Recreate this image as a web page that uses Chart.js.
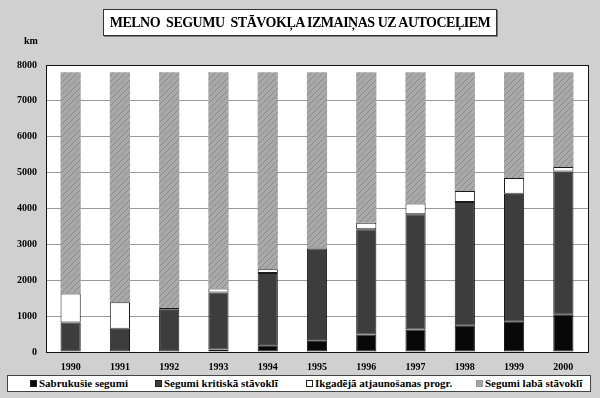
<!DOCTYPE html>
<html>
<head>
<meta charset="utf-8">
<script src="https://cdn.jsdelivr.net/npm/chart.js@4.4.1/dist/chart.umd.min.js"></script>
<style>
  html, body { margin: 0; padding: 0; }
  body { width: 600px; height: 398px; position: relative; overflow: hidden; background: #d0d0d0; font-family: "Liberation Serif", "Times New Roman", serif; }
  #wrap { position: absolute; left: 0; top: 0; width: 600px; height: 398px; }
  .title {
    position: absolute; left: 103px; top: 9px; width: 392px; height: 25px;
    background: #fff; border: 1px solid #333; box-shadow: 1px 1px 0 #777;
    font-weight: bold; font-size: 14px; letter-spacing: -0.5px; line-height: 25px; text-align: center; white-space: pre; color: #000;
  }
  .unit { position: absolute; left: 24px; top: 35px; font-weight: bold; font-size: 10px; }
  .legend {
    position: absolute; left: 7px; top: 375px; width: 582px; height: 15px;
    background: #fff; border: 1px solid #444; font-weight: bold; font-size: 11px; line-height: 15px; color: #000;
  }
  .item { position: absolute; top: 0; white-space: nowrap; }
  .sw { display: inline-block; width: 7px; height: 7px; margin-right: 2px; box-sizing: border-box; }
</style>
</head>
<body>
<div id="wrap"><canvas id="chart" width="600" height="398"></canvas></div>
<div class="title">MELNO  SEGUMU  STĀVOKĻA IZMAIŅAS UZ AUTOCEĻIEM</div>
<div class="unit">km</div>
<div class="legend" id="legend"></div>

<script>
// data (km)
const years = ["1990", "1991", "1992", "1993", "1994", "1995", "1996", "1997", "1998", "1999", "2000"];
const collapsed = [0, 0, 0, 70, 190, 330, 490, 630, 730, 840, 1040];
const critical = [820, 650, 1180, 1590, 2010, 2555, 2935, 3210, 3450, 3570, 3990];
const renewal = [810, 740, 45, 110, 110, 25, 175, 300, 305, 440, 130];
const good = [6170, 6410, 6575, 6030, 5490, 4890, 4200, 3660, 3315, 2950, 2640];
const yTicks = [0, 1000, 2000, 3000, 4000, 5000, 6000, 7000, 8000];

const seriesNames = ["Sabrukušie segumi", "Segumi kritiskā stāvoklī", "Ikgadējā atjaunošanas progr.", "Segumi labā stāvoklī"];
const legendX = [22, 147, 298, 468];

// hatch pattern for the "good" segments
function hatch() {
  const c = document.createElement("canvas");
  c.width = 6; c.height = 6;
  const g = c.getContext("2d");
  g.fillStyle = "#a9a9a9";
  g.fillRect(0, 0, 6, 6);
  g.strokeStyle = "#8a8a8a";
  g.lineWidth = 1;
  g.beginPath();
  g.moveTo(0, 6); g.lineTo(6, 0);
  g.moveTo(-3, 3); g.lineTo(3, -3);
  g.moveTo(3, 9); g.lineTo(9, 3);
  g.stroke();
  return g.createPattern(c, "repeat");
}
const goodFill = hatch();

const colors = ["#080808", "#3d3d3d", "#ffffff", goodFill];
const swatchCss = ["#080808", "#3d3d3d", "#ffffff", "#a5a5a5"];

// legend
const legend = document.getElementById("legend");
seriesNames.forEach((name, i) => {
  const el = document.createElement("div");
  el.className = "item";
  el.style.left = legendX[i] + "px";
  el.innerHTML = `<span class="sw" style="background:${swatchCss[i]};border:1px solid ${i === 3 ? "#999" : "#222"}"></span>${name}`;
  legend.appendChild(el);
});

const backdrop = {
  id: "backdrop",
  beforeDraw(chart) {
    const { ctx, chartArea: a } = chart;
    ctx.save();
    ctx.fillStyle = "#d0d0d0";
    ctx.fillRect(0, 0, chart.width, chart.height);
    ctx.fillStyle = "#ffffff";
    ctx.fillRect(a.left, a.top, a.right - a.left, a.bottom - a.top);
    ctx.restore();
  },
  afterDraw(chart) {
    const { ctx, chartArea: a } = chart;
    ctx.save();
    ctx.strokeStyle = "#111";
    ctx.lineWidth = 1;
    ctx.strokeRect(a.left + 0.5, a.top + 0.5, a.right - a.left, a.bottom - a.top);
    ctx.restore();
  }
};

function makeSet(i, data) {
  return {
    label: seriesNames[i],
    data: data,
    backgroundColor: colors[i],
    borderColor: "#1a1a1a",
    borderWidth: i === 3 ? 0 : 1,
    borderSkipped: false,
    barPercentage: 0.41,
    categoryPercentage: 1
  };
}

new Chart(document.getElementById("chart"), {
  type: "bar",
  data: {
    labels: years,
    datasets: [
      makeSet(0, collapsed),
      makeSet(1, critical),
      makeSet(2, renewal),
      makeSet(3, good)
    ]
  },
  options: {
    responsive: false,
    animation: false,
    layout: { padding: { top: 65, right: 12, left: 0, bottom: 0 } },
    plugins: {
      legend: { display: false },
      tooltip: { enabled: false }
    },
    scales: {
      x: {
        stacked: true,
        grid: { display: false, drawTicks: false },
        border: { display: false },
        ticks: { color: "#000", padding: 9, font: { family: "Liberation Serif", size: 10, weight: "bold" } },
        afterFit(s) { s.height = 46; }
      },
      y: {
        stacked: true,
        min: 0,
        max: 8000,
        afterBuildTicks(s) { s.ticks = yTicks.map(v => ({ value: v })); },
        grid: { color: "#9a9a9a", lineWidth: 1, drawTicks: false },
        border: { display: false },
        ticks: {
          color: "#000",
          padding: 9,
          font: { family: "Liberation Serif", size: 10, weight: "bold" },
          callback: v => String(v)
        },
        afterFit(s) { s.width = 46; }
      }
    }
  },
  plugins: [backdrop]
});
</script>
</body>
</html>
